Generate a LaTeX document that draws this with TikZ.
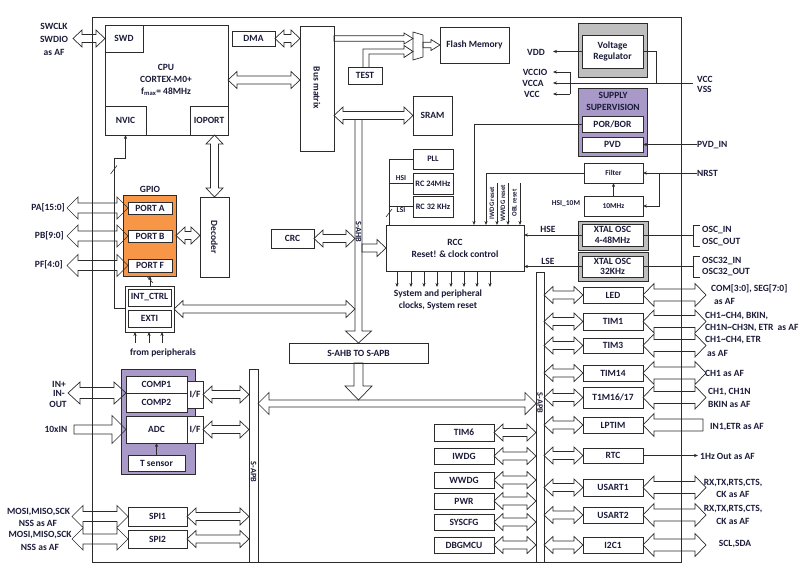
\documentclass[tikz,border=0pt]{standalone}
\usepackage{fontspec}
\setmainfont{Carlito}
\usetikzlibrary{calc,arrows.meta}
\definecolor{lc}{HTML}{2B2B2B}
\definecolor{tc}{HTML}{1B1B3A}
\definecolor{orangeF}{HTML}{F79646}
\definecolor{purpleF}{HTML}{A899C8}
\definecolor{greyF}{HTML}{BFBFBF}
\newcommand\fN{\bfseries\fontsize{9.5}{11}\selectfont}
\newcommand\fNs[1]{\bfseries\fontsize{9.5}{#1}\selectfont}
\newcommand\fS{\bfseries\fontsize{7.5}{8}\selectfont}
\newcommand\fM{\bfseries\fontsize{8.3}{9}\selectfont}
\newcommand\fT{\bfseries\fontsize{6.8}{7}\selectfont}
\newcommand\ZBox[7][]{\node[zb,#1,minimum width={(#5-#3)*1pt},minimum height={(#6-#4)*1pt}] (#2) at ({(#3+#5)/2},{(#4+#6)/2}) {#7};}
\tikzset{
 ahl/.store in=\aL, ahw/.store in=\aW, asw/.store in=\aS,
 ahl=9pt, ahw=8.5pt, asw=4pt,
 bigA/.style={ahl=11pt,ahw=11pt,asw=5pt},
 extA/.style={ahl=11pt,ahw=11.5pt,asw=6pt},
 narrowA/.style={ahl=9pt,ahw=5.5pt,asw=2.7pt},
 zb/.style={draw=lc,line width=.75pt,fill=white,inner sep=0pt,outer sep=0pt,align=center,font=\fN,text=tc},
 lbl/.style={font=\fN,text=tc,inner sep=0pt,align=center},
 blk/.style={draw=lc,line width=.7pt,line join=miter},
 thinA/.style={draw=lc,line width=.6pt,-{Stealth[length=4pt,width=3.2pt]}},
 thinL/.style={draw=lc,line width=.6pt},
 dblk/.style={blk,to path={let \p1=(\tikztostart),\p2=(\tikztotarget),\n1={atan2(\y2-\y1,\x2-\x1)} in
   (\p1) -- ($(\p1)+(\n1:\aL)+({\n1+90}:\aW)$) -- ($(\p1)+(\n1:\aL)+({\n1+90}:\aS)$)
   -- ($(\p2)+({\n1+180}:\aL)+({\n1+90}:\aS)$) -- ($(\p2)+({\n1+180}:\aL)+({\n1+90}:\aW)$)
   -- (\p2) -- ($(\p2)+({\n1+180}:\aL)+({\n1-90}:\aW)$) -- ($(\p2)+({\n1+180}:\aL)+({\n1-90}:\aS)$)
   -- ($(\p1)+(\n1:\aL)+({\n1-90}:\aS)$) -- ($(\p1)+(\n1:\aL)+({\n1-90}:\aW)$) -- cycle}},
 sblk/.style={blk,to path={let \p1=(\tikztostart),\p2=(\tikztotarget),\n1={atan2(\y2-\y1,\x2-\x1)} in
   ($(\p1)+({\n1+90}:\aS)$) -- ($(\p2)+({\n1+180}:\aL)+({\n1+90}:\aS)$) -- ($(\p2)+({\n1+180}:\aL)+({\n1+90}:\aW)$)
   -- (\p2) -- ($(\p2)+({\n1+180}:\aL)+({\n1-90}:\aW)$) -- ($(\p2)+({\n1+180}:\aL)+({\n1-90}:\aS)$)
   -- ($(\p1)+({\n1-90}:\aS)$) -- cycle}},
}
\begin{document}
\begin{tikzpicture}[x=1pt,y=-1pt]
\useasboundingbox (0,0) rectangle (807,570);
% chip outline
\ZBox[fill=none]{chip}{92}{17}{681}{562}{}
% CPU
\ZBox{cpu}{105}{25}{228}{135}{}
\node[lbl,font=\fNs{12}] (cputxt) at (166,80) {CPU\\CORTEX-M0+\\f\textsubscript{max}= 48MHz};
\ZBox{swd}{105}{25}{143}{52}{SWD}
\ZBox{nvic}{105}{106}{146}{135}{NVIC}
\ZBox{ioport}{190}{106}{228}{135}{IOPORT}
\ZBox{dma}{232}{31}{275}{46}{DMA}
\ZBox{bm}{300}{26}{334}{151}{}
\node[lbl,rotate=-90] (bmtxt) at (317,88) {Bus matrix};
\ZBox{test}{348}{67}{382}{84}{TEST}
\ZBox{flash}{440}{27}{509}{63}{Flash Memory}
\ZBox{sram}{413}{96}{452}{135}{SRAM}
\draw[blk] (413,32) -- (423,35) -- (423,57) -- (413,60) -- cycle;
\coordinate (muxI) at (413,38.5);
\coordinate (muxO) at (423,45);
% power
\ZBox[fill=greyF]{vrO}{578}{23}{647}{77}{}
\ZBox{vr}{582}{35}{643}{68}{Voltage\\Regulator}
\ZBox[fill=purpleF]{sup}{578}{88}{647}{156}{}
\node[lbl,font=\fNs{12}] (suptxt) at (613,101) {SUPPLY\\SUPERVISION};
\ZBox{por}{582}{116}{643}{132}{POR/BOR}
\ZBox{pvd}{582}{137}{643}{152}{PVD}
\ZBox[font=\fS]{filt}{584}{163}{643}{183}{Filter}
\ZBox[font=\fS]{tenm}{584}{196}{643}{216}{10MHz}
\ZBox[fill=greyF]{hseO}{578}{221}{648}{250}{}
\ZBox[font=\fNs{10.5}]{hse}{582}{224}{643}{246}{XTAL OSC\\4-48MHz}
\ZBox[fill=greyF]{lseO}{578}{252}{648}{281}{}
\ZBox[font=\fNs{10.5}]{lse}{582}{256}{643}{277}{XTAL OSC\\32KHz}
% clocks
\ZBox[font=\fM]{pll}{413}{149}{453}{169}{PLL}
\ZBox[font=\fM]{rc24}{413}{173}{453}{194}{RC 24MHz}
\ZBox[font=\fM]{rc32}{413}{196}{453}{217}{RC 32 KHz}
\ZBox[font=\fNs{12}]{rcc}{386}{225}{524}{271}{RCC\\Reset! \& clock control}
\ZBox{crc}{271}{229}{314}{248}{CRC}
% GPIO
\ZBox[fill=orangeF]{gpio}{123}{195}{176}{276}{}
\ZBox{pa}{128}{202}{172}{214}{PORT A}
\ZBox{pb}{128}{230}{172}{242}{PORT B}
\ZBox{pf}{128}{259}{172}{272}{PORT F}
\ZBox{dec}{200}{197}{229}{277}{}
\node[lbl,rotate=-90] (dectxt) at (214.5,237) {Decoder};
\ZBox{exo}{125}{286}{174}{332}{}
\ZBox{intc}{128}{289}{171}{306}{INT\_CTRL}
\ZBox{exti}{128}{310}{171}{327}{EXTI}
% buses
\ZBox{ahb}{289}{343}{428}{363}{S-AHB TO S-APB}
\ZBox{lbus}{249}{369}{258}{562}{}
\ZBox{rbus}{536}{272}{544}{562}{}
\node[lbl,rotate=-90,font=\fM] (lbustxt) at (253.5,472) {S-APB};
% analog
\ZBox[fill=purpleF]{cmpO}{121}{369}{195}{474}{}
\ZBox{comp1}{126}{376}{187}{393}{COMP1}
\ZBox{comp2}{126}{393}{187}{412}{COMP2}
\ZBox{if1}{187}{381}{203}{408}{I/F}
\ZBox{adc}{126}{416}{187}{443}{ADC}
\ZBox{if2}{187}{416}{203}{443}{I/F}
\ZBox{tsens}{128}{455}{185}{471}{T sensor}
\ZBox{spi1}{128}{507}{187}{526}{SPI1}
\ZBox{spi2}{128}{530}{187}{548}{SPI2}
% APB peripherals
\foreach \nm/\a/\b/\t in {tim6/424/441/TIM6,iwdg/448/464/IWDG,wwdg/472/488/WWDG,pwr/493/509/PWR,syscfg/514/530/SYSCFG,dbg/537/553/DBGMCU}{
  \ZBox{\nm}{434}{\a}{494}{\b}{\t}
}
\foreach \nm in {tim6,iwdg,wwdg,pwr,syscfg,dbg}{
  \coordinate (tmpA) at (\nm.east);
  \coordinate (tmpB) at (\nm.east -| rbus.west);
  \draw[dblk] (tmpA) to (tmpB);
}
\foreach \nm/\a/\b/\t in {led/287/303/LED,tim1/313/330/TIM1,tim3/338/353/TIM3,tim14/365/381/TIM14,tim16/387/408/{T1M16/17},lptim/417/433/LPTIM,rtc/448/463/RTC,usart1/479/496/USART1,usart2/507/523/USART2,i2c/537/553/I2C1}{
  \ZBox{\nm}{583}{\a}{643}{\b}{\t}
}
\foreach \nm in {led,tim1,tim3,tim14,tim16,lptim,rtc,usart1,usart2,i2c}{
  \coordinate (tmpA) at (\nm.west -| rbus.east);
  \coordinate (tmpB) at (\nm.west);
  \draw[dblk] (tmpA) to (tmpB);
}
\node[lbl,rotate=-90,font=\fM] (rbustxt) at (540,403) {S-APB};
% helper coordinates
\coordinate (busL) at (355,0);
\coordinate (busR) at (362,0);
\coordinate (extR) at (706,0);
\coordinate (extT) at (703,0);
\coordinate (hb) at (0,403.5);
\coordinate (swdL) at (73,38.5);
\coordinate (yCB) at (0,80);
% CPU side arrows
\draw[dblk] (swdL) to (swd.west);
\draw[dblk] (dma.east) to (dma.east -| bm.west);
\draw[dblk] (cpu.east |- yCB) to (bm.west |- yCB);
\draw[sblk,narrowA] (bm.east |- dma.east) to (muxI);
\draw[blk] (363,67) -- (363,49) -- (404,49) -- (404,45.5) -- (413,51.5) -- (404,57.5) -- (404,54) -- (369,54) -- (369,67);
\draw[sblk,narrowA] (muxO) to (flash.west |- muxO);
\draw[dblk] (bm.east |- sram.west) to (sram.west);
\coordinate (ahbTop) at ($(ahb.north |- sram.west)+(0,4)$);
\draw[sblk,ahl=12pt,ahw=13pt,asw=3.5pt] (ahbTop) to (ahb.north);
\node[lbl,rotate=-90,font=\fM] (ahbtxt) at (358.5,232) {S-AHB};
\draw[dblk] (crc.east) to (crc.east -| busL);
\draw[sblk] (rcc.west -| busR) to (rcc.west);
\draw[dblk] (exo.east) to (exo.east -| busL);
\coordinate (apbTip) at ($(ahb.south |- hb)+(0,-3.5)$);
\draw[sblk,ahl=14pt,ahw=13.5pt,asw=4.5pt] (ahb.south) to (apbTip);
\draw[dblk,ahl=11pt,ahw=11pt,asw=3.5pt] (lbus.east |- hb) to (rbus.west |- hb);
% GPIO arrows
\coordinate (paL) at (67,208);
\coordinate (pbL) at (67,236);
\coordinate (pfL) at (67,265.5);
\draw[dblk,bigA] (paL) to (pa.west);
\draw[dblk,bigA] (pbL) to (pb.west);
\draw[dblk,bigA] (pfL) to (pf.west);
\draw[dblk] (dec.north |- ioport.south) to (dec.north);
\draw[dblk] (gpio.east) to (dec.west |- gpio.east);
% analog / SPI arrows
\draw[dblk] (if1.east) to (if1.east -| lbus.west);
\draw[dblk] (if2.east) to (if2.east -| lbus.west);
\draw[dblk] (spi1.east) to (spi1.east -| lbus.west);
\draw[dblk] (spi2.east) to (spi2.east -| lbus.west);
\coordinate (inL) at (68,393);
\coordinate (tenL) at (74,429.5);
\coordinate (spL1) at (72,516.5);
\coordinate (spL2) at (72,539);
\draw[dblk,ahl=12pt,ahw=11pt,asw=5.5pt] (inL) to (comp1.south west);
\draw[sblk,ahl=14pt,ahw=14pt,asw=4.5pt] (tenL) to (adc.west);
\draw[dblk,bigA] (spL1) to (spi1.west);
\draw[dblk,bigA] (spL2) to (spi2.west);
\draw[thinA] (tsens.north) -- (adc.south);
% external right arrows
\foreach \nm in {led,tim1,tim3,tim14,tim16,usart1,usart2,i2c}{
  \coordinate (tmpA) at (\nm.east);
  \coordinate (tmpB) at (\nm.east -| extR);
  \draw[dblk,extA] (tmpA) to (tmpB);
}
\draw[sblk,extA] (lptim.east -| extT) to (lptim.east);
\coordinate (rtcR) at (698,0);
\draw[thinA] (rtc.east) -- (rtc.east -| rtcR);
% power lines
\coordinate (vddA) at (553,0);
\coordinate (v72) at (570,72);
\coordinate (v94) at (570,94);
\coordinate (v83R) at (693,83);
\coordinate (regJ) at (656,83);
\draw[thinA] (vr.west) -- (vr.west -| vddA);
\draw[thinA] (v72) -- (v72 -| vddA);
\draw[thinA] (v94) -- (v94 -| vddA);
\draw[thinL] (v72) -- (v94);
\draw[thinA] (v83R) -- (v83R -| vddA);
\draw[thinL] (vr.east) -| (regJ);
\coordinate (porD) at (474,225);
\coordinate (filD) at (486,225);
\draw[thinA] (por.west) -| (porD);
\draw[thinA] (filt.west) -| (filD);
\foreach \x in {497,508,520}{\draw[thinA] (\x,183) -- (\x,225);}
\coordinate (pvdR) at (697,144.5);
\coordinate (nrstR) at (697,173);
\coordinate (nrstB) at (659,173);
\draw[thinA] (pvdR) -- (pvd.east);
\draw[thinA] (nrstR) -- (filt.east);
\draw[thinA] (nrstB) |- (tenm.east);
\draw[thinA] (tenm.north) -- (filt.south);
% PLL lines
\coordinate (pllD) at (389,225);
\draw[thinL] (pll.west) -| (pllD);
\draw[thinL] (rc24.west) -- (rc24.west -| pllD);
\draw[thinL] (rc32.west) -- (rc32.west -| pllD);
\draw[thinL] (386,217) -- (392,209);
% HSE / LSE
\draw[thinA] (hse.west) -- (hse.west -| rcc.east);
\draw[thinA] (lse.west) -- (lse.west -| rcc.east);
\coordinate (brX) at (693,0);
\draw[thinL] (hse.east) -- (hse.east -| brX);
\draw[thinL] (lse.east) -- (lse.east -| brX);
\draw[thinL] (700,225) -- (693,225) -- (693,246) -- (700,246);
\draw[thinL] (700,256) -- (693,256) -- (693,277) -- (700,277);
% RCC outputs
\foreach \i in {11,25,38,51,65,78,91,104}{\draw[thinA] ($(rcc.south west)+(\i,0)$) -- ++(0,16);}
% NVIC / EXTI
\coordinate (nv1) at (114,308);
\coordinate (nv2) at (114,158);
\draw[thinA] (nv1 -| exo.west) -- (nv1) -- (nv2) -- (nv2 -| nvic.south) -- (nvic.south);
\draw[thinL] (110.5,174) -- (117,165.5);
\coordinate (gx) at (150,0);
\draw[thinA] (exo.north -| gx) -- (gpio.south -| gx);
\draw[thinL] (147,276.5) -- (153,283);
\foreach \x in {135,149,162}{\draw[thinA] (\x,343) -- (\x,332);}
% labels
\node[lbl,font=\fNs{13}] (swlbl) at (54,39) {SWCLK\\SWDIO\\as AF};
\node[lbl,anchor=east] (palbl) at (65,208) {PA[15:0]};
\node[lbl,anchor=east] (pblbl) at (64,236) {PB[9:0]};
\node[lbl,anchor=east] (pflbl) at (63,265) {PF[4:0]};
\node[lbl] (gpiolbl) at (150,189) {GPIO};
\node[lbl] (fplbl) at (163,353) {from peripherals};
\node[lbl] (inplbl) at (59,384) {IN+};
\node[lbl] (inmlbl) at (59,393.5) {IN-};
\node[lbl] (outlbl) at (58,404) {OUT};
\node[lbl] (teninlbl) at (56,429) {10xIN};
\node[lbl] (mosi1) at (38.5,512) {MOSI,MISO,SCK};
\node[lbl] (nss1) at (38,523) {NSS as AF};
\node[lbl] (mosi2) at (40,535) {MOSI,MISO,SCK};
\node[lbl] (nss2) at (40,547) {NSS as AF};
\node[lbl] (vddlbl) at (536,52) {VDD};
\node[lbl] (vcciolbl) at (535,72) {VCCIO};
\node[lbl] (vccalbl) at (533,83) {VCCA};
\node[lbl] (vcclbl) at (532,94) {VCC};
\node[lbl,anchor=west,align=left,font=\fNs{10}] (vccvss) at (697,84) {VCC\\VSS};
\node[lbl,anchor=west] (pvdinlbl) at (697,145) {PVD\_IN};
\node[lbl,anchor=west] (nrstlbl) at (697,173) {NRST};
\node[lbl,font=\fS] (hsi10) at (566,204) {HSI\_10M};
\node[lbl,font=\fS] (hsilbl) at (401,178) {HSI};
\node[lbl,font=\fS] (lsilbl) at (401,210) {LSI};
\node[lbl] (hselbl) at (548,229) {HSE};
\node[lbl] (lselbl) at (548,261) {LSE};
\node[lbl,anchor=west] (oscin) at (702,230) {OSC\_IN};
\node[lbl,anchor=west] (oscout) at (702,242) {OSC\_OUT};
\node[lbl,anchor=west] (osc32in) at (702,261) {OSC32\_IN};
\node[lbl,anchor=west] (osc32out) at (702,272) {OSC32\_OUT};
\node[lbl,font=\fNs{12}] (sysclk) at (438,300) {System and peripheral\\clocks, System reset};
\node[lbl,font=\fT,rotate=90] (iwdgr) at (492,203) {IWDG reset};
\node[lbl,font=\fT,rotate=90] (wwdgr) at (503,203) {WWDG reset};
\node[lbl,font=\fT,rotate=90] (oblr) at (514.5,203) {OBL reset};
\node[lbl,anchor=west] (ledl1) at (711,289) {COM[3:0], SEG[7:0]};
\node[lbl,anchor=west] (ledl2) at (714,301) {as AF};
\node[lbl,anchor=west] (t1l1) at (705,316) {CH1\textasciitilde CH4, BKIN,};
\node[lbl,anchor=west] (t1l2) at (705,328) {CH1N\textasciitilde CH3N, ETR\ \ as AF};
\node[lbl,anchor=west] (t3l1) at (705,340) {CH1\textasciitilde CH4, ETR};
\node[lbl,anchor=west] (t3l2) at (707,353) {as AF};
\node[lbl,anchor=west] (t14l) at (705,373) {CH1 as AF};
\node[lbl,anchor=west] (t16l1) at (708,392) {CH1, CH1N};
\node[lbl,anchor=west] (t16l2) at (708,404) {BKIN as AF};
\node[lbl,anchor=west] (lptl) at (710,427) {IN1,ETR as AF};
\node[lbl,anchor=west] (rtcl) at (700,456) {1Hz Out as AF};
\node[lbl] (u1l1) at (733,483) {RX,TX,RTS,CTS,};
\node[lbl] (u1l2) at (733,494) {CK as AF};
\node[lbl] (u2l1) at (733,509) {RX,TX,RTS,CTS,};
\node[lbl] (u2l2) at (733,521) {CK as AF};
\node[lbl] (i2cl) at (735,544) {SCL,SDA};
\end{tikzpicture}
\end{document}
